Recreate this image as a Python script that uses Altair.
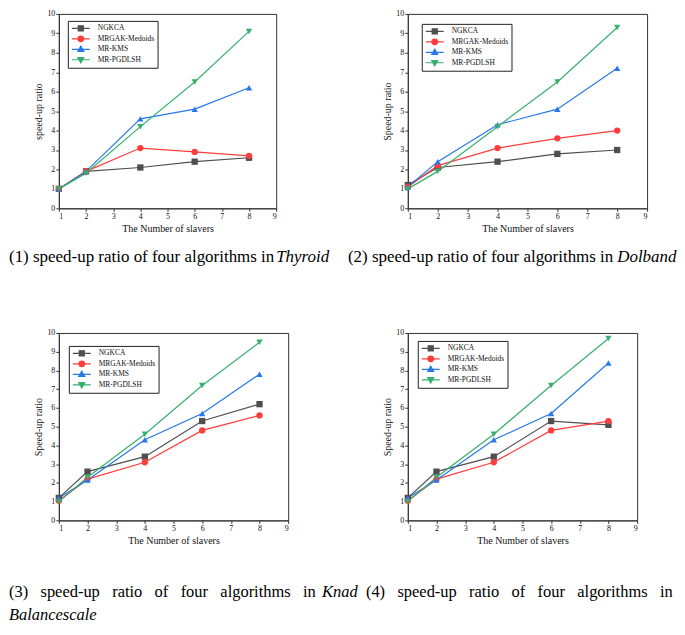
import altair as alt
import pandas as pd

# ---------------- data ----------------
x_vals = [1, 2, 4, 6, 8]
series = ["NGKCA", "MRGAK-Medoids", "MR-KMS", "MR-PGDLSH"]
colors = ["#4f4f4f", "#ff3c3c", "#2878e8", "#36b06c"]
shapes = ["square", "circle", "triangle-up", "triangle-down"]

thyroid_ngkca = [1.0, 1.9, 2.1, 2.4, 2.6]
thyroid_mrgak = [1.0, 1.9, 3.1, 2.9, 2.7]
thyroid_kms = [1.0, 1.9, 4.6, 5.1, 6.2]
thyroid_pgdlsh = [1.0, 1.8, 4.2, 6.5, 9.1]

dolband_ngkca = [1.2, 2.1, 2.4, 2.8, 3.0]
dolband_mrgak = [1.1, 2.2, 3.1, 3.6, 4.0]
dolband_kms = [1.1, 2.4, 4.3, 5.1, 7.2]
dolband_pgdlsh = [1.0, 1.9, 4.2, 6.5, 9.3]

knad_ngkca = [1.2, 2.6, 3.4, 5.3, 6.2]
knad_mrgak = [1.05, 2.2, 3.1, 4.8, 5.6]
knad_kms = [1.2, 2.15, 4.3, 5.7, 7.8]
knad_pgdlsh = [1.0, 2.3, 4.6, 7.2, 9.5]

bal_ngkca = [1.2, 2.6, 3.4, 5.3, 5.1]
bal_mrgak = [1.05, 2.2, 3.1, 4.8, 5.3]
bal_kms = [1.2, 2.15, 4.3, 5.7, 8.4]
bal_pgdlsh = [1.0, 2.3, 4.6, 7.2, 9.7]

x_ticks = [1, 2, 3, 4, 5, 6, 7, 8, 9]
y_ticks = [0, 1, 2, 3, 4, 5, 6, 7, 8, 9, 10]

NB = "\u00a0\u00a0 "
cap_main = "speed-up ratio of four algorithms in"
cap_wide = NB.join(["speed-up", "ratio", "of", "four", "algorithms", "in"])

# legend symbols: line segment + marker
leg_paths = [
    "M-3,0H3M-0.85,-0.85H0.85V0.85H-0.85Z",
    "M-3,0H3M-0.95,0A0.95,0.95 0 1,0 0.95,0A0.95,0.95 0 1,0 -0.95,0Z",
    "M-3,0H3M0,-1.05L1.0,0.7H-1.0Z",
    "M-3,0H3M0,1.05L1.0,-0.7H-1.0Z",
]

FONT = "Liberation Serif"


def js_list(items):
    return "[" + ",".join("'" + i + "'" for i in items) + "]"


IDX = "indexof(" + js_list(series) + ", datum.value)"
SHAPE_EXPR = js_list(leg_paths) + "[" + IDX + "]"
COLOR_EXPR = js_list(colors) + "[" + IDX + "]"


def text_layer(txt, x, y, size, italic=False):
    return alt.Chart(pd.DataFrame({"t": [txt]})).mark_text(
        align="left", baseline="alphabetic", font=FONT, fontSize=size,
        fontStyle="italic" if italic else "normal", color="black"
    ).encode(text="t:N", x=alt.value(x), y=alt.value(y))


def panel(values, ytitle, w, h, lx, ly, texts):
    rows = []
    for s, vals in zip(series, values):
        for xv, yv in zip(x_vals, vals):
            rows.append({"x": xv, "y": yv, "series": s})
    df = pd.DataFrame(rows)

    leg = alt.Legend(
        orient="none", legendX=lx, legendY=ly, title=None,
        strokeColor="#222", fillColor="white", padding=3,
        labelFont=FONT, labelFontSize=7.5, labelColor="#111",
        symbolSize=36, symbolStrokeWidth=1.2, symbolOffset=6,
        labelOffset=13, rowPadding=1.5, clipHeight=9, symbolOpacity=1,
        symbolType=alt.ExprRef(SHAPE_EXPR),
        symbolFillColor=alt.ExprRef(COLOR_EXPR),
        symbolStrokeColor=alt.ExprRef(COLOR_EXPR),
    )

    xenc = alt.X("x:Q", scale=alt.Scale(domain=[1, 9], nice=False, zero=False),
                 axis=alt.Axis(values=x_ticks, format="d", title="The Number of slavers",
                               titlePadding=3))
    yenc = alt.Y("y:Q", scale=alt.Scale(domain=[0, 10], nice=False),
                 axis=alt.Axis(values=y_ticks, format="d", title=ytitle, titlePadding=3))
    col = alt.Color("series:N", scale=alt.Scale(domain=series, range=colors), legend=leg)

    lines = alt.Chart(df).mark_line(strokeWidth=1.2).encode(x=xenc, y=yenc, color=col)
    point_layers = []
    for s, shp in zip(series, shapes):
        point_layers.append(
            alt.Chart(df).transform_filter(alt.datum.series == s).mark_point(
                filled=True, size=40, opacity=1, shape=shp
            ).encode(x=xenc, y=yenc, color=col)
        )

    return alt.layer(lines, *point_layers, *texts).properties(width=w, height=h)


p1 = panel([thyroid_ngkca, thyroid_mrgak, thyroid_kms, thyroid_pgdlsh], "speed-up ratio",
           218, 195, 9, 7,
           [text_layer("(1) " + cap_main, -50, 249, 17),
            text_layer("Thyroid", 218, 249, 17, True)])
p2 = panel([dolband_ngkca, dolband_mrgak, dolband_kms, dolband_pgdlsh], "Speed-up ratio",
           240, 195, 14, 10,
           [text_layer("(2) " + cap_main, -60, 249, 17),
            text_layer("Dolband", 210, 249, 17, True)])
p3 = panel([knad_ngkca, knad_mrgak, knad_kms, knad_pgdlsh], "Speed-up ratio",
           230, 188, 10, 13,
           [text_layer("(3)" + NB + cap_wide, -50, 265, 16.5),
            text_layer("Knad", 264, 265, 16.5, True),
            text_layer("Balancescale", -50, 288, 16.5, True)])
p4 = panel([bal_ngkca, bal_mrgak, bal_kms, bal_pgdlsh], "Speed-up ratio",
           230, 188, 10, 8,
           [text_layer("(4)" + NB + cap_wide, -42, 265, 16.5)])

chart = alt.concat(p1, p2, p3, p4, columns=2).properties(
    spacing={"row": 125, "column": 120}, align="none", bounds="flush", padding=0,
    background="white"
).resolve_scale(
    color="independent"
).resolve_legend(
    color="independent"
).configure_view(
    stroke="#333", strokeWidth=1
).configure_axis(
    labelFont=FONT, labelFontSize=8, labelColor="#111",
    titleFont=FONT, titleFontSize=10, titleFontWeight="normal", titleColor="#111",
    domainColor="#333", tickColor="#333", tickSize=3, labelPadding=1, grid=False
)

chart.save("out.html", embed_options={"renderer": "svg", "actions": False})
